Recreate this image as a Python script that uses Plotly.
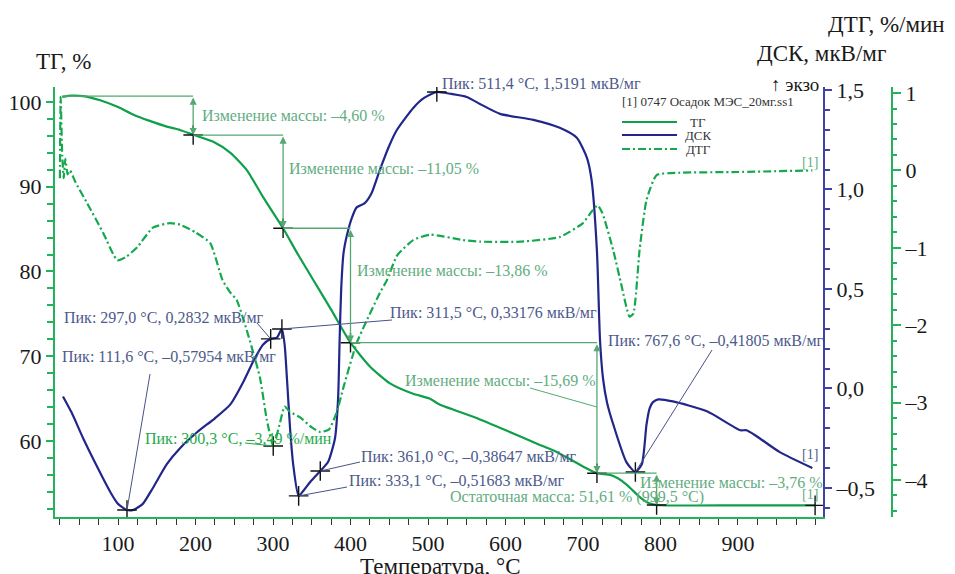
import plotly.graph_objects as go

# ---------------- data ----------------
tg_T = [28, 40, 55, 77, 100, 120, 140, 163, 180, 198, 223, 245, 266, 287, 313, 331, 352, 375,
        400, 425, 451, 480, 502, 515, 560, 602, 640, 666, 700, 718, 735, 745, 757, 773, 784,
        795, 900, 999.5]
tg_val = [100.6, 100.75, 100.7, 100.2, 99.4, 98.5, 97.8, 97.1, 96.7, 96.1, 95.3, 94.0, 92.0,
          88.8, 85.1, 82.2, 79.0, 75.5, 71.6, 68.8, 66.8, 65.6, 65.0, 64.3, 62.8, 61.2, 59.7,
          58.7, 57.0, 56.2, 56.0, 55.6, 54.8, 53.4, 52.7, 52.45, 52.4, 52.4]

dsc_T = [29, 40, 55, 70, 90, 100, 111.6, 120, 132, 145, 163, 180, 202, 225, 245, 262, 275, 287,
         297, 305, 311.5, 315, 318, 322, 326, 333.1, 340, 348, 361, 371, 380, 384, 386, 388, 391,
         396, 402, 408, 418, 427, 438, 450, 460, 481, 495, 511.4, 530, 550, 567, 593, 636, 670,
         692, 705, 711, 718, 722, 726, 731, 739, 756, 767.6, 776, 782, 786, 790, 797, 816, 860,
         903, 911, 924, 954, 996]
dsc_val = [-0.04, -0.12, -0.25, -0.37, -0.52, -0.58, -0.611, -0.61, -0.58, -0.50, -0.38, -0.30,
           -0.22, -0.15, -0.08, 0.035, 0.14, 0.22, 0.249, 0.255, 0.299, 0.22, 0.05, -0.20, -0.38,
           -0.54, -0.51, -0.47, -0.415, -0.37, -0.25, -0.05, 0.25, 0.50, 0.68, 0.78, 0.86, 0.91,
           0.93, 0.98, 1.10, 1.22, 1.30, 1.41, 1.46, 1.49, 1.48, 1.465, 1.43, 1.38, 1.35, 1.31,
           1.26, 1.16, 1.05, 0.69, 0.24, 0.045, -0.07, -0.18, -0.37, -0.42, -0.38, -0.18, -0.10,
           -0.07, -0.055, -0.065, -0.115, -0.21, -0.21, -0.24, -0.32, -0.40]

dtg_T = [25, 26, 28, 30, 32, 35, 38, 45, 60, 81, 99, 110, 125, 145, 167, 180, 200, 219, 235, 245,
         253, 266, 283, 292, 300.3, 309, 315, 322, 335, 350, 361, 372, 382, 391, 408, 438, 447,
         460, 481, 503, 545, 567, 620, 670, 700, 712, 719, 725, 739, 750, 760, 765, 773, 782,
         795, 825, 900, 996]
dtg_val = [-0.10, 0.95, 0.20, -0.10, 0.15, -0.05, 0.0, -0.15, -0.42, -0.81, -1.16, -1.12, -0.99,
           -0.74, -0.68, -0.70, -0.80, -0.94, -1.42, -1.58, -1.67, -2.06, -2.67, -3.22, -3.56,
           -3.26, -3.05, -3.12, -3.19, -3.32, -3.38, -3.35, -3.13, -2.80, -2.23, -1.58, -1.42,
           -1.10, -0.90, -0.83, -0.90, -0.92, -0.92, -0.86, -0.68, -0.52, -0.45, -0.55, -1.03,
           -1.50, -1.89, -1.85, -1.03, -0.38, -0.06, -0.03, -0.02, 0.0]

x_tick_vals = [100, 200, 300, 400, 500, 600, 700, 800, 900]
tg_tick_vals = [60, 70, 80, 90, 100]
dsc_tick_vals = [-0.5, 0.0, 0.5, 1.0, 1.5]
dsc_tick_text = ["–0,5", "0,0", "0,5", "1,0", "1,5"]
dtg_tick_vals = [-4, -3, -2, -1, 0, 1]
dtg_tick_text = ["–4", "–3", "–2", "–1", "0", "1"]

# mass-change steps (TG)
step_T = [28, 197, 313, 400, 718, 795]
step_TG = [100.7, 96.1, 85.1, 71.6, 56.2, 52.45]
step_text = ["Изменение массы: –4,60 %", "Изменение массы: –11,05 %",
             "Изменение массы: –13,86 %", "Изменение массы: –15,69 %",
             "Изменение массы: –3,76 %"]
residual_T = [999.5]
residual_TG = [52.4]
residual_text = "Остаточная масса: 51,61 % (999,5 °C)"

# DSC peaks
dsc_peak_T = [111.6, 297.0, 311.5, 333.1, 361.0, 511.4, 767.6]
dsc_peak_val = [-0.611, 0.249, 0.299, -0.540, -0.415, 1.49, -0.420]
dsc_peak_text = ["Пик: 111,6 °C, –0,57954 мкВ/мг", "Пик: 297,0 °C, 0,2832 мкВ/мг",
                 "Пик: 311,5 °C, 0,33176 мкВ/мг", "Пик: 333,1 °C, –0,51683 мкВ/мг",
                 "Пик: 361,0 °C, –0,38647 мкВ/мг", "Пик: 511,4 °C, 1,5191 мкВ/мг",
                 "Пик: 767,6 °C, –0,41805 мкВ/мг"]
# DTG peak
dtg_peak_T = [300.3]
dtg_peak_val = [-3.56]
dtg_peak_text = "Пик: 300,3 °C, –3,49 %/мин"

# ---------------- layout constants ----------------
OFF = 8                      # page body margin of the browser
W, H = 947, 566
ML, MR, MT = 47, 55, 79
PLOT_BOTTOM = 509
MB = H - PLOT_BOTTOM
PW, PH = W - ML - MR, H - MT - MB
X_RIGHT = 815
XDOM = (X_RIGHT - ML) / PW
X_RANGE = [18.7, 1009.7]
TG_RANGE = [51.03, 101.77]
DSC_RANGE = [-0.646, 1.515]
DTG_RANGE = [-4.478, 1.078]
DTG_POS = (884 - ML) / PW

FONT = "Liberation Serif, Times New Roman, serif"
C_TG = "#0f9f4b"
C_DSC = "#22268a"
C_DTG = "#14a84f"
C_AX_G = "#22b35c"
C_AX_B = "#3f42a0"
C_STEP = "#55a870"
C_STEP_TXT = "#62ad7f"
C_PEAK_TXT = "#4c5a8c"
C_LEAD = "#46528a"
C_DTG_TXT = "#1faa4c"
ANN_SIZE = 16
TITLE_SIZE = 23


# helpers: screen pixel (as seen in the final picture) -> figure coordinates
def px2T(sx):
    return X_RANGE[0] + (sx - OFF - ML) / (X_RIGHT - ML) * (X_RANGE[1] - X_RANGE[0])


def py2v(rng, sy):
    return rng[0] + (PLOT_BOTTOM - (sy - OFF)) / PH * (rng[1] - rng[0])


def pxp(sx):
    return (sx - OFF - ML) / PW


def pyp(sy):
    return (PLOT_BOTTOM - (sy - OFF)) / PH


fig = go.Figure()

fig.add_trace(go.Scatter(x=tg_T, y=tg_val, mode="lines", name="ТГ",
                         line=dict(color=C_TG, width=2.2, shape="spline", smoothing=0.6),
                         yaxis="y", showlegend=False))
fig.add_trace(go.Scatter(x=dtg_T, y=dtg_val, mode="lines", name="ДТГ",
                         line=dict(color=C_DTG, width=2.2, dash="8px,3px,2px,3px",
                                   shape="spline", smoothing=0.5),
                         yaxis="y3", showlegend=False))
fig.add_trace(go.Scatter(x=dsc_T, y=dsc_val, mode="lines", name="ДСК",
                         line=dict(color=C_DSC, width=2.2, shape="spline", smoothing=0.6),
                         yaxis="y2", showlegend=False))

cross = dict(symbol="cross-thin", size=14, line=dict(color="#111111", width=1.4))
fig.add_trace(go.Scatter(x=step_T[1:] + residual_T, y=step_TG[1:] + residual_TG, mode="markers",
                         marker=cross, yaxis="y", showlegend=False, hoverinfo="skip"))
fig.add_trace(go.Scatter(x=dsc_peak_T, y=dsc_peak_val, mode="markers",
                         marker=cross, yaxis="y2", showlegend=False, hoverinfo="skip"))
fig.add_trace(go.Scatter(x=dtg_peak_T, y=dtg_peak_val, mode="markers",
                         marker=cross, yaxis="y3", showlegend=False, hoverinfo="skip"))

shapes = []
annotations = []


def label(sx, sy, text, color, size=ANN_SIZE, anchor="left"):
    annotations.append(dict(xref="paper", yref="paper", x=pxp(sx), y=pyp(sy), text=text,
                            showarrow=False, xanchor=anchor, yanchor="middle",
                            font=dict(family=FONT, size=size, color=color)))


# mass-change steps: horizontal lines + double arrows + labels
step_label_px = [(200, 115), (287, 168), (355, 270), (403, 380), (638, 482)]
for i in range(len(step_text)):
    shapes.append(dict(type="line", xref="x", yref="y", x0=step_T[i], x1=step_T[i + 1],
                       y0=step_TG[i], y1=step_TG[i], line=dict(color=C_STEP, width=1.3)))
    annotations.append(dict(xref="x", yref="y", axref="x", ayref="y",
                            x=step_T[i + 1], y=step_TG[i + 1], ax=step_T[i + 1], ay=step_TG[i],
                            text="", showarrow=True, arrowhead=2, arrowside="end+start",
                            arrowsize=1.1, arrowwidth=1.3, arrowcolor=C_STEP, standoff=0,
                            startstandoff=0))
    label(*step_label_px[i], step_text[i], C_STEP_TXT)
# leader for the -15,69 % label
shapes.append(dict(type="line", xref="x", yref="y", x0=px2T(530), y0=py2v(TG_RANGE, 388),
                   x1=step_T[4], y1=py2v(TG_RANGE, 407), line=dict(color=C_STEP, width=1)))
label(448, 497, residual_text, C_STEP_TXT)

# DSC peak labels and leaders
peak_label_px = [(60, 356), (62, 317), (388, 312), (347, 480), (359, 456), (440, 83), (606, 340)]
peak_lead_px = [(150, 374), (257, 323), (392, 320), (347, 487), (360, 462), None, (712, 350)]
for i in range(len(dsc_peak_text)):
    label(*peak_label_px[i], dsc_peak_text[i], C_PEAK_TXT)
    if peak_lead_px[i] is not None:
        ex, ey = peak_lead_px[i]
        shapes.append(dict(type="line", xref="x", yref="y2", x0=dsc_peak_T[i], y0=dsc_peak_val[i],
                           x1=px2T(ex), y1=py2v(DSC_RANGE, ey), line=dict(color=C_LEAD, width=1)))

# DTG peak label
label(143, 438, dtg_peak_text, C_DTG_TXT)
shapes.append(dict(type="line", xref="x", yref="y3", x0=px2T(245), y0=py2v(DTG_RANGE, 443),
                   x1=dtg_peak_T[0], y1=dtg_peak_val[0], line=dict(color=C_DTG_TXT, width=1)))

# [1] curve tags
for (tx, ty, col) in [(810, 162, C_STEP_TXT), (810, 454, C_PEAK_TXT), (810, 494, C_STEP_TXT)]:
    label(tx, ty, "[1]", col, size=14, anchor="center")

# legend (drawn by hand)
label(620, 102, "[1] 0747 Осадок МЭС_20мг.ss1", "#333333", size=13)
for (name, ly, col, dash) in [("ТГ", 122, C_TG, "solid"), ("ДСК", 135, C_DSC, "solid"),
                              ("ДТГ", 149, C_DTG, "8px,3px,2px,3px")]:
    shapes.append(dict(type="line", xref="paper", yref="paper", x0=pxp(622), x1=pxp(677),
                       y0=pyp(ly), y1=pyp(ly), line=dict(color=col, width=2.2, dash=dash)))
    label(698, ly, name, "#333333", size=13, anchor="center")

# axis titles
label(34, 62, "ТГ, %", "#1a1a1a", size=TITLE_SIZE)
label(440, 566, "Температура, °C", "#1a1a1a", size=TITLE_SIZE, anchor="center")
label(755, 54, "ДСК, мкВ/мг", "#1a1a1a", size=TITLE_SIZE)
label(826, 24, "ДТГ, %/мин", "#1a1a1a", size=TITLE_SIZE)
label(821, 85, "↑ экзо", "#1a1a1a", size=19, anchor="right")

tick_font = dict(family=FONT, size=22, color="#1a1a1a")
fig.update_layout(
    width=W, height=H, margin=dict(l=ML, r=MR, t=MT, b=MB, autoexpand=False),
    paper_bgcolor="white", plot_bgcolor="white",
    showlegend=False,
    font=dict(family=FONT),
    xaxis=dict(domain=[0, XDOM], range=X_RANGE, showgrid=False, zeroline=False,
               showline=True, linecolor=C_AX_G, linewidth=2,
               tickmode="array", tickvals=x_tick_vals, ticks="outside", ticklen=6,
               tickcolor="#333333", tickwidth=1, tickfont=tick_font,
               minor=dict(tick0=0, dtick=25, ticks="outside", ticklen=6, tickcolor="#333333",
                          tickwidth=1, showgrid=False)),
    yaxis=dict(range=TG_RANGE, showgrid=False, zeroline=False, showline=True,
               linecolor=C_AX_G, linewidth=2, tickmode="array", tickvals=tg_tick_vals,
               ticks="outside", ticklen=7, tickcolor=C_AX_G, tickwidth=1.5, tickfont=tick_font,
               minor=dict(tick0=0, dtick=2, ticks="outside", ticklen=6, tickcolor=C_AX_G,
                          tickwidth=1.5, showgrid=False)),
    yaxis2=dict(range=DSC_RANGE, overlaying="y", side="right", anchor="x", showgrid=False,
                zeroline=False, showline=True, linecolor=C_AX_B, linewidth=2,
                tickmode="array", tickvals=dsc_tick_vals, ticktext=dsc_tick_text,
                ticks="outside", ticklen=7, tickcolor=C_AX_B, tickwidth=1.5, tickfont=tick_font,
                minor=dict(tick0=0, dtick=0.1, ticks="outside", ticklen=5, tickcolor=C_AX_B,
                           tickwidth=1.5, showgrid=False)),
    yaxis3=dict(range=DTG_RANGE, overlaying="y", side="right", anchor="free", position=DTG_POS,
                showgrid=False, zeroline=False, showline=True, linecolor=C_AX_G, linewidth=2,
                tickmode="array", tickvals=dtg_tick_vals, ticktext=dtg_tick_text,
                ticks="outside", ticklen=8, tickcolor=C_AX_G, tickwidth=1.5, tickfont=tick_font,
                minor=dict(tick0=0, dtick=0.2, ticks="outside", ticklen=4, tickcolor=C_AX_G,
                           tickwidth=1.5, showgrid=False)),
    shapes=shapes,
    annotations=annotations,
)

fig.write_html("out.html")
